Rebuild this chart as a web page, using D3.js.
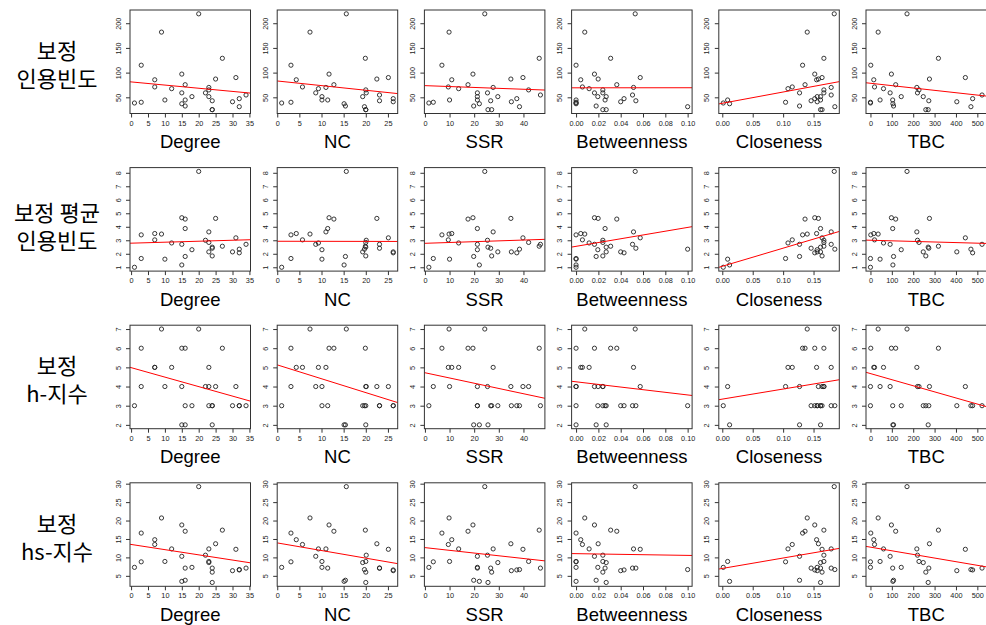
<!DOCTYPE html>
<html>
<head>
<meta charset="utf-8">
<script src="https://cdn.jsdelivr.net/npm/d3@7"></script>
<style>
  body { margin: 0; background: #fff; }
  svg { display: block; }
  text { font-family: "Liberation Sans", Arial, sans-serif; }
  .rowlab { font-family: "Noto Sans CJK KR", sans-serif; font-size: 22px; fill: #000; }
</style>
</head>
<body>
<svg width="986" height="625"></svg>
<script>
// one entry per author (same order in every array)
const degree = [20, 9, 27, 3, 15, 31, 25, 7, 16, 7, 23, 12, 23, 15, 22, 34, 18, 23, 32, 10, 16, 24, 30, 3, 1, 15, 16, 32, 24, 24];
const nc = [15.6, 7.4, 19.9, 3.1, 11.7, 25.1, 22.5, 4.3, 12.8, 5.7, 11.0, 9.3, 20.0, 8.7, 20.1, 23.1, 10.1, 19.3, 26.2, 10.1, 11.4, 23.1, 26.2, 3.1, 1.0, 15.1, 15.4, 19.7, 20.0, 20.0];
const ssr = [24.3, 9.8, 46.4, 6.9, 19.5, 39.8, 34.9, 10.9, 17.5, 9.5, 27.7, 13.7, 42.1, 21.3, 25.4, 46.9, 21.3, 29.6, 37.3, 10.0, 21.3, 26.7, 35.1, 3.4, 1.6, 22.1, 19.8, 38.4, 25.6, 27.1];
const betweenness = [0.053, 0.0078, 0.031, 0, 0.0165, 0.0575, 0.0198, 0.0042, 0.0365, 0.0057, 0.0515, 0.0117, 0.024, 0.0165, 0.024, 0.0506, 0.0195, 0.027, 0.043, 0, 0.026, 0.0536, 0.040, 0, 0, 0, 0.018, 0.1, 0.027, 0.024];
const closeness = [0.184, 0.1396, 0.167, 0.132, 0.152, 0.164, 0.158, 0.155, 0.136, 0.115, 0.179, 0.108, 0.167, 0.127, 0.167, 0.179, 0.156, 0.1615, 0.152, 0.0088, 0.1615, 0.146, 0.156, 0.104, 0.0016, 0.012, 0.127, 0.185, 0.1615, 0.164];
const tbc = [171, 36, 318, 1.5, 98, 444, 276, 15.5, 118, 19, 217, 61, 227, 92, 220, 522, 144, 247, 478, 45, 104, 273, 404, 0, 0, 105, 108, 470, 270, 259];

const citation = [219, 182, 129, 115, 97, 90, 87, 85.5, 75.5, 71, 70, 67.5, 65, 59, 59, 54.7, 51.4, 51.4, 47.3, 44.6, 44.6, 43, 41, 40, 38.5, 37, 32.4, 31, 25, 25];
const avgCitation = [8.1, 3.46, 2.56, 3.4, 4.67, 3.18, 4.62, 3.5, 4.57, 3.03, 3.62, 2.8, 2.84, 2.7, 3.0, 2.7, 2.3, 2.14, 2.07, 1.6, 3.87, 2.41, 2.14, 1.65, 1.0, 1.17, 1.8, 2.34, 2.49, 1.84];
const hIndex = [7, 7, 6, 6, 6, 4, 4, 5, 6, 5, 5, 5, 4, 4, 4, 3, 3, 3, 3, 4, 3, 3, 3, 4, 3, 2, 2, 3, 2, 3];
const hsIndex = [29.2, 20.7, 17.4, 16.6, 18.8, 12.2, 13.7, 14.8, 17.1, 13.5, 12.3, 12.3, 8.9, 10.3, 10.6, 7.1, 7.3, 8.6, 6.6, 8.9, 7.1, 7.1, 6.4, 8.8, 7.3, 3.5, 3.8, 6.7, 3.2, 6.0];

const xNames = ["Degree", "NC", "SSR", "Betweenness", "Closeness", "TBC"];
const xSeries = [degree, nc, ssr, betweenness, closeness, tbc];
const xTicks = [
  [0, 5, 10, 15, 20, 25, 30, 35],
  [0, 5, 10, 15, 20, 25],
  [0, 10, 20, 30, 40],
  [0, 0.02, 0.04, 0.06, 0.08, 0.10],
  [0, 0.05, 0.10, 0.15],
  [0, 100, 200, 300, 400, 500]
];
const xFormats = ["d", "d", "d", ".2f", ".2f", "d"];

const rowLabels = [["보정", "인용빈도"], ["보정 평균", "인용빈도"], ["보정", "h-지수"], ["보정", "hs-지수"]];
const ySeries = [citation, avgCitation, hIndex, hsIndex];
const yTicks = [
  [50, 100, 150, 200],
  [1, 2, 3, 4, 5, 6, 7, 8],
  [2, 3, 4, 5, 6, 7],
  [5, 10, 15, 20, 25, 30]
];

const svg = d3.select("svg");
const left0 = 130, top0 = 10, colStep = 147.2, rowStep = 157.6;
const pw = 120.5, ph = 103.5;

// R-style range: data extent widened by 4% on each side
const rdomain = v => {
  const [a, b] = d3.extent(v), p = (b - a) * 0.04;
  return [a - p, b + p];
};

// least-squares line (abline(lm(y ~ x)))
const fit = (xs, ys) => {
  const mx = d3.mean(xs), my = d3.mean(ys);
  let sxy = 0, sxx = 0;
  xs.forEach((x, i) => { sxy += (x - mx) * (ys[i] - my); sxx += (x - mx) ** 2; });
  const b = sxy / sxx;
  return [my - b * mx, b];
};

// row labels, two lines each
rowLabels.forEach((lines, r) => {
  const cy = top0 + r * rowStep + ph / 2 + (r === 1 ? 8 : 3);
  lines.forEach((t, i) => {
    svg.append("text").attr("class", "rowlab")
      .attr("x", 57).attr("text-anchor", "middle")
      .attr("y", cy + (i - 0.5) * 28 + 8)
      .text(t);
  });
});

const cells = [];
ySeries.forEach((ys, r) => xSeries.forEach((xs, c) => cells.push({ r, c, xs, ys })));

svg.selectAll("g.panel")
  .data(cells)
  .enter()
  .append("g")
  .attr("class", "panel")
  .attr("transform", d => `translate(${left0 + d.c * colStep},${top0 + d.r * rowStep})`)
  .each(function (d) {
    const g = d3.select(this);
    const x = d3.scaleLinear().domain(rdomain(d.xs)).range([0, pw]);
    const y = d3.scaleLinear().domain(rdomain(d.ys)).range([ph, 0]);
    const id = `clip-${d.r}-${d.c}`;

    g.append("clipPath").attr("id", id)
      .append("rect").attr("width", pw).attr("height", ph);

    // x axis
    const xa = g.append("g").attr("transform", `translate(0,${ph})`)
      .call(d3.axisBottom(x).tickValues(xTicks[d.c]).tickFormat(d3.format(xFormats[d.c]))
        .tickSize(4).tickPadding(3).tickSizeOuter(0));
    xa.select(".domain").remove();
    xa.selectAll("line").attr("stroke", "#333");
    xa.selectAll("text").attr("font-size", 7.3).attr("fill", "#222")
      .attr("font-family", "Liberation Sans, Arial, sans-serif");

    // y axis, labels parallel to axis as in R
    const ya = g.append("g")
      .call(d3.axisLeft(y).tickValues(yTicks[d.r]).tickFormat(d3.format("d"))
        .tickSize(4).tickSizeOuter(0));
    ya.select(".domain").remove();
    ya.selectAll("line").attr("stroke", "#333");
    ya.selectAll("text")
      .attr("font-size", 7.3).attr("fill", "#222")
      .attr("font-family", "Liberation Sans, Arial, sans-serif")
      .attr("text-anchor", "middle").attr("dy", null)
      .attr("x", null)
      .attr("transform", "translate(-9.5,0) rotate(-90)");

    // axis title
    g.append("text")
      .attr("x", pw / 2).attr("y", ph + 34.5)
      .attr("text-anchor", "middle")
      .attr("font-size", 18.5).attr("fill", "#000")
      .text(xNames[d.c]);

    // points
    g.append("g").selectAll("circle")
      .data(d.xs.map((v, i) => [v, d.ys[i]]))
      .enter().append("circle")
      .attr("cx", p => x(p[0])).attr("cy", p => y(p[1]))
      .attr("r", 2.1)
      .attr("fill", "none").attr("stroke", "#222").attr("stroke-width", 0.9);

    // regression line
    const [a, b] = fit(d.xs, d.ys);
    const [x0, x1] = x.domain();
    g.append("line")
      .attr("clip-path", `url(#${id})`)
      .attr("x1", x(x0)).attr("y1", y(a + b * x0))
      .attr("x2", x(x1)).attr("y2", y(a + b * x1))
      .attr("stroke", "#ff0000").attr("stroke-width", 1);

    // box
    g.append("rect").attr("width", pw).attr("height", ph)
      .attr("fill", "none").attr("stroke", "#333").attr("stroke-width", 1);
  });
</script>
</body>
</html>
